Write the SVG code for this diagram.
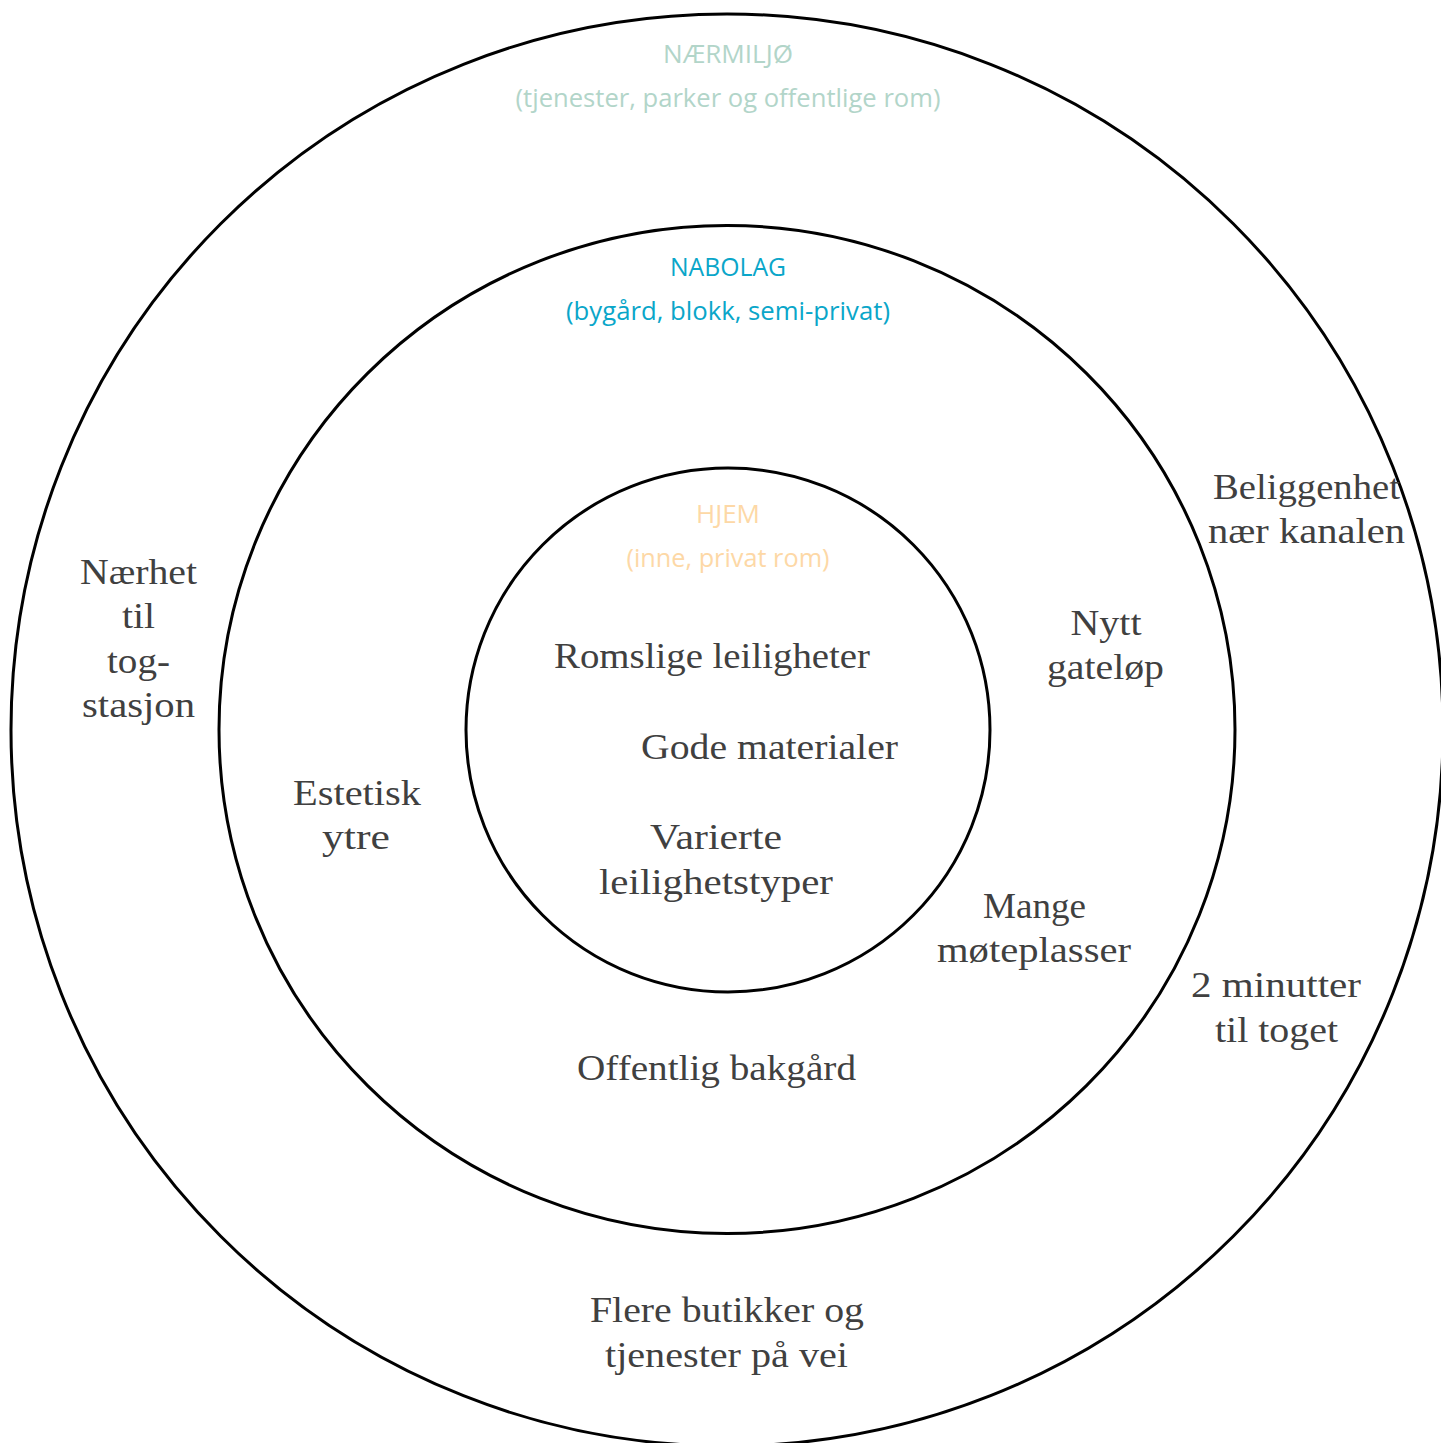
<svg xmlns="http://www.w3.org/2000/svg" width="1441" height="1443" viewBox="0 0 1441 1443">
<style>
.ring{fill:none;stroke:#000;stroke-width:3}
.t{font-family:"Liberation Serif","DejaVu Serif",serif;font-size:35px;fill:#404040;text-anchor:middle}
.l{font-family:"Open Sans","Noto Sans",sans-serif;font-size:26px;text-anchor:middle}
.g{fill:#b2d5c9}
.b{fill:#0aa6c9}
.o{fill:#fdd8a6}
</style>
<rect width="1441" height="1443" fill="#fff"/>
<g id="rings">
<circle id="outer" class="ring" cx="727" cy="730" r="716"/>
<ellipse id="middle" class="ring" cx="727" cy="729.5" rx="508" ry="504"/>
<circle id="inner" class="ring" cx="728" cy="730" r="262"/>
</g>
<g id="connectors"/>
<g id="label-naermiljo">
<text class="l g" x="728" y="63" textLength="130" lengthAdjust="spacingAndGlyphs">NÆRMILJØ</text>
<text class="l g" x="728" y="107" textLength="425" lengthAdjust="spacingAndGlyphs">(tjenester, parker og offentlige rom)</text>
</g>
<g id="label-nabolag">
<text class="l b" x="728" y="276" textLength="116" lengthAdjust="spacingAndGlyphs">NABOLAG</text>
<text class="l b" x="728" y="320" textLength="324" lengthAdjust="spacingAndGlyphs">(bygård, blokk, semi-privat)</text>
</g>
<g id="label-hjem">
<text class="l o" x="728" y="523" textLength="64" lengthAdjust="spacingAndGlyphs">HJEM</text>
<text class="l o" x="728" y="567" textLength="203" lengthAdjust="spacingAndGlyphs">(inne, privat rom)</text>
</g>
<g id="romslige"><text class="t" x="712" y="668" textLength="316" lengthAdjust="spacingAndGlyphs">Romslige leiligheter</text></g>
<g id="gode"><text class="t" x="769.5" y="759" textLength="257" lengthAdjust="spacingAndGlyphs">Gode materialer</text></g>
<g id="varierte">
<text class="t" x="716" y="849" textLength="132" lengthAdjust="spacingAndGlyphs">Varierte</text>
<text class="t" x="716" y="894" textLength="234" lengthAdjust="spacingAndGlyphs">leilighetstyper</text>
</g>
<g id="naerhet">
<text class="t" x="138.5" y="584" textLength="117" lengthAdjust="spacingAndGlyphs">Nærhet</text>
<text class="t" x="138.5" y="628" textLength="33" lengthAdjust="spacingAndGlyphs">til</text>
<text class="t" x="138.5" y="673" textLength="63" lengthAdjust="spacingAndGlyphs">tog-</text>
<text class="t" x="138.5" y="717" textLength="113" lengthAdjust="spacingAndGlyphs">stasjon</text>
</g>
<g id="estetisk">
<text class="t" x="357" y="805" textLength="128" lengthAdjust="spacingAndGlyphs">Estetisk</text>
<text class="t" x="356" y="849" textLength="68" lengthAdjust="spacingAndGlyphs">ytre</text>
</g>
<g id="nytt">
<text class="t" x="1106" y="635" textLength="71" lengthAdjust="spacingAndGlyphs">Nytt</text>
<text class="t" x="1105.5" y="679" textLength="117" lengthAdjust="spacingAndGlyphs">gateløp</text>
</g>
<g id="mange">
<text class="t" x="1034.5" y="918" textLength="103" lengthAdjust="spacingAndGlyphs">Mange</text>
<text class="t" x="1034" y="962" textLength="194" lengthAdjust="spacingAndGlyphs">møteplasser</text>
</g>
<g id="beliggenhet">
<text class="t" x="1306.5" y="499" textLength="187" lengthAdjust="spacingAndGlyphs">Beliggenhet</text>
<text class="t" x="1306.5" y="543" textLength="197" lengthAdjust="spacingAndGlyphs">nær kanalen</text>
</g>
<g id="minutter">
<text class="t" x="1276" y="997" textLength="170" lengthAdjust="spacingAndGlyphs">2 minutter</text>
<text class="t" x="1276.5" y="1042" textLength="123" lengthAdjust="spacingAndGlyphs">til toget</text>
</g>
<g id="bakgard"><text class="t" x="716.5" y="1080" textLength="279" lengthAdjust="spacingAndGlyphs">Offentlig bakgård</text></g>
<g id="flere">
<text class="t" x="727" y="1322" textLength="274" lengthAdjust="spacingAndGlyphs">Flere butikker og</text>
<text class="t" x="726.5" y="1367" textLength="243" lengthAdjust="spacingAndGlyphs">tjenester på vei</text>
</g>
</svg>
